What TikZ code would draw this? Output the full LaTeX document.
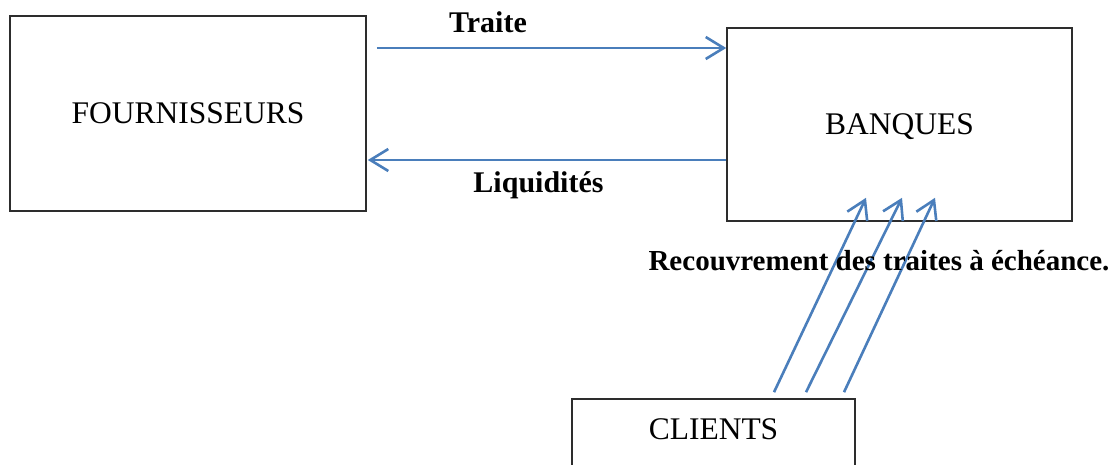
\documentclass[tikz,border=0pt]{standalone}
\usepackage{fontspec}
\setmainfont{Liberation Serif}
\usetikzlibrary{arrows.meta}
\definecolor{arrblue}{RGB}{74,126,187}
\definecolor{boxgray}{RGB}{45,45,45}
\tikzset{
  boxnode/.style={draw=boxgray, line width=1.6pt, rectangle, inner sep=0pt,
    font=\fontsize{31.5}{36}\selectfont, text depth=0pt},
  flow/.style={draw=arrblue, line width=2.6pt,
    -{Straight Barb[length=18pt,width=22pt,line width=2.6pt]}},
  lab/.style={font=\fontsize{30}{34}\selectfont\bfseries, anchor=base, inner sep=0pt}
}
\begin{document}
\begin{tikzpicture}[x=1pt,y=-1pt]
\useasboundingbox (0,0) rectangle (1118,465);
\node[boxnode, minimum width=356pt, minimum height=195pt] (four) at (188,113.5) {FOURNISSEURS};
\node[boxnode, minimum width=345pt, minimum height=193pt] (banq) at (899.5,124.5) {BANQUES};
\node[boxnode, minimum width=283pt, text height=40pt, text depth=40pt, anchor=base] (clients) at (713.5,439) {CLIENTS};
\draw[flow] ([shift={(10,-65.5)}]four.east) -- ([shift={(0,-76.5)}]banq.west);
\draw[flow] ([shift={(0,35.5)}]banq.west) -- ([shift={(1,46.5)}]four.east);
\draw[flow] ([shift={(60.5,-6)}]clients.north) -- ([shift={(-33.5,-24)}]banq.south);
\draw[flow] ([shift={(92.5,-6)}]clients.north) -- ([shift={(2.5,-24)}]banq.south);
\draw[flow] ([shift={(130.5,-6)}]clients.north) -- ([shift={(35.5,-24)}]banq.south);
\node[lab] (traite) at (488,33) {Traite};
\node[lab] (liq) at (538.5,193) {Liquidités};
\node[lab, font=\fontsize{29}{34}\selectfont\bfseries] (recouv) at (879,270) {Recouvrement des traites à échéance.};
\end{tikzpicture}
\end{document}
